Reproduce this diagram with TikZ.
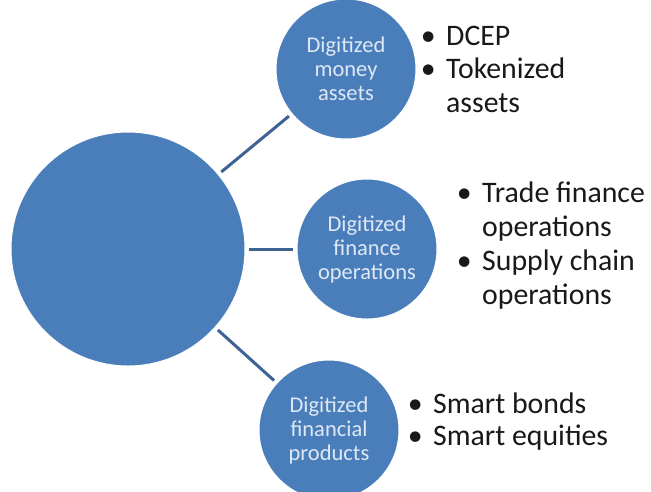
\documentclass[tikz,border=0pt]{standalone}
\usepackage{fontspec}
\setmainfont{Carlito}
\definecolor{circfill}{RGB}{74,126,187}
\definecolor{circtext}{RGB}{222,232,245}
\definecolor{linkcol}{RGB}{62,98,148}
\definecolor{bodytext}{RGB}{25,25,25}
\newcommand\bul{\hspace*{-18pt}\makebox[0pt]{\textbullet}\hspace*{18pt}}
\newcommand\twolines[2]{\begin{tabular}[t]{@{}l@{}}#1\\#2\end{tabular}}
\begin{document}
\begin{tikzpicture}[x=1pt,y=-1pt,
  hub/.style={circle,fill=circfill,draw=white,line width=1pt,minimum size=234pt,inner sep=0pt,outer sep=4pt},
  sat/.style={circle,fill=circfill,draw=white,line width=1pt,minimum size=140pt,inner sep=0pt,outer sep=4pt,text=circtext,font=\fontsize{22.5}{24}\selectfont,align=center},
  link/.style={draw=linkcol,line width=3pt},
  item/.style={anchor=base west,inner sep=0pt,font=\fontsize{29.8}{34}\selectfont,text=bodytext}]
\useasboundingbox[fill=white] (0,0) rectangle (651,491);
\node[hub] (hub) at (128,249) {};
\node[sat] (money) at (346,69) {Digitized\\money\\assets};
\node[sat] (ops) at (367,249) {Digitized\\finance\\operations};
\node[sat] (prod) at (329,430) {Digitized\\financial\\products};
\draw[link] (hub) -- (money);
\draw[link] (hub) -- (ops);
\draw[link] (hub) -- (prod);
\node[item] (dcep) at (446,45) {\bul DCEP};
\node[item] (tok) at (446,78) {\bul\twolines{Tokenized}{assets}};
\node[item] (trade) at (482,202) {\bul\twolines{Trade finance}{operations}};
\node[item] (supply) at (482,270) {\bul\twolines{Supply chain}{operations}};
\node[item] (bonds) at (433,413) {\bul Smart bonds};
\node[item] (equity) at (433,445) {\bul Smart equities};
\end{tikzpicture}
\end{document}
